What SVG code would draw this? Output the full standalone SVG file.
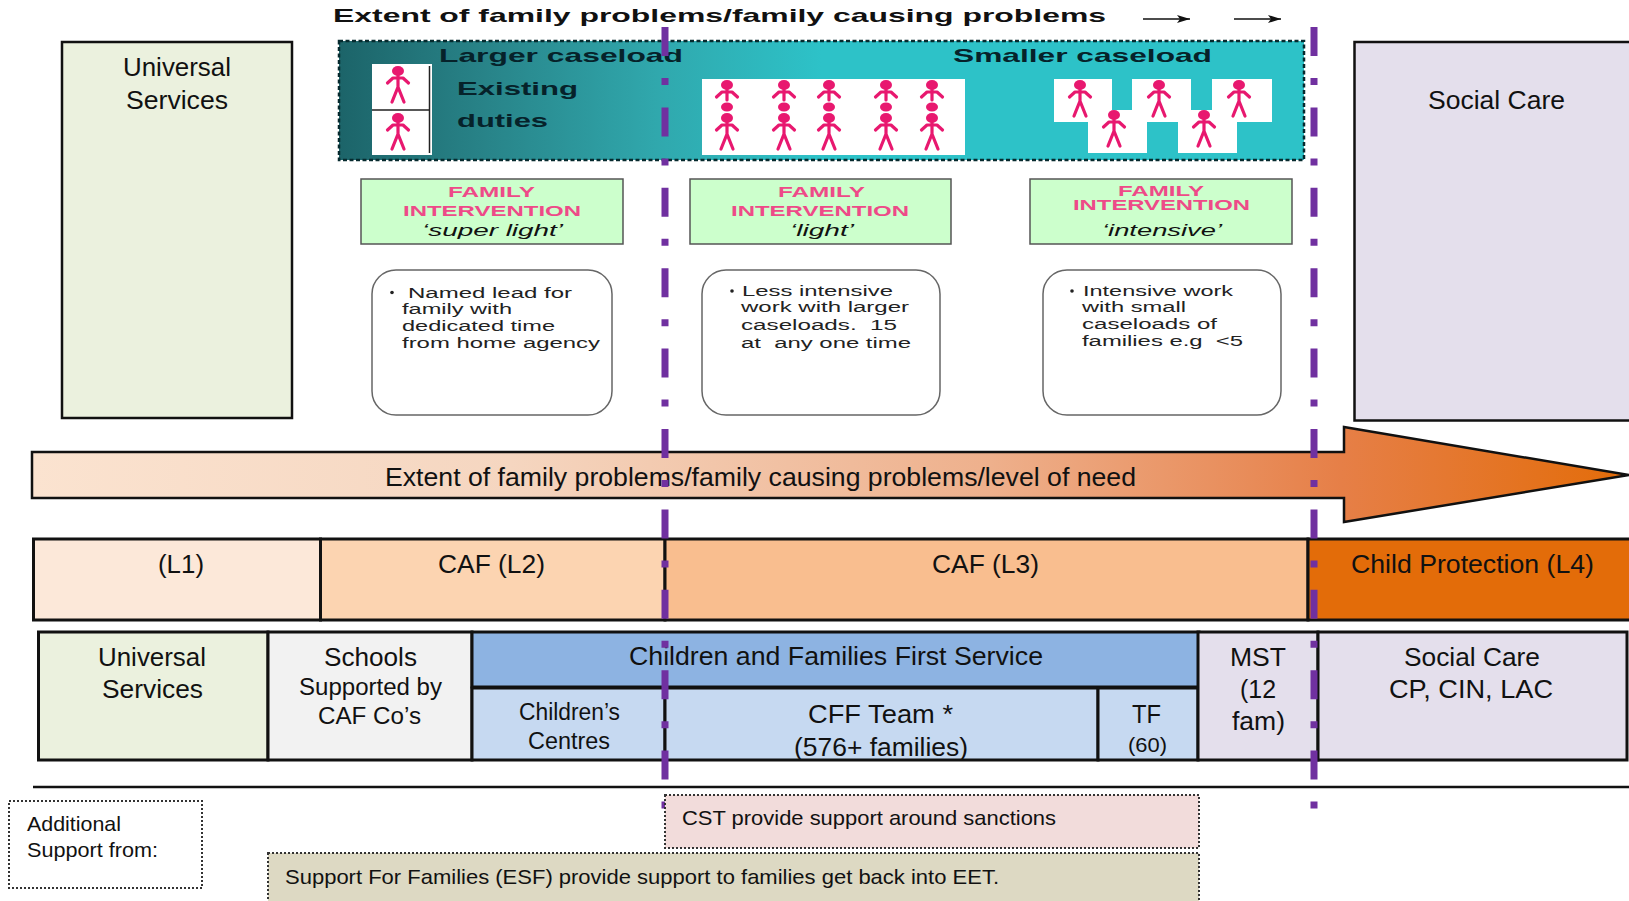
<svg xmlns="http://www.w3.org/2000/svg" xmlns:xlink="http://www.w3.org/1999/xlink" width="1629" height="901" viewBox="0 0 1629 901">
<style>
text{font-family:"Liberation Sans",Arial,sans-serif;fill:#111}
.l{font-size:26px}
.m{font-size:23px}
.s{font-size:21px}
.hd{font-size:18.500px;font-weight:bold}
.t{font-size:19px;font-weight:bold;fill:#06222a}
.fi{font-size:15.500px;font-weight:bold;fill:#ee4a88}
.it{font-size:17px;font-style:italic}
.b{font-size:15.500px;fill:#222}
.box{stroke:#111;stroke-width:2.500}
.row{stroke:#111;stroke-width:3}
.fam{fill:#ccffcc;stroke:#555;stroke-width:1.500}
.rnd{fill:#fff;stroke:#666;stroke-width:1.500}
.dot{stroke:#333;stroke-width:2;stroke-dasharray:2 2}
.p{fill:none;stroke:#e8186f;stroke-width:3.200;stroke-linecap:round;stroke-linejoin:round}
.h{fill:#e8186f}
.w{fill:#fff}
.pur{stroke:#7030a0;stroke-width:7;fill:none;stroke-dasharray:29 22 7 22.400}
.ar{stroke:#111;stroke-width:1.500;fill:none;marker-end:url(#tip)}
</style>
<defs>
<linearGradient id="teal" gradientUnits="userSpaceOnUse" x1="339" y1="0" x2="1304" y2="0">
<stop offset="0" stop-color="#1c6469"/><stop offset=".15" stop-color="#288388"/><stop offset=".33" stop-color="#30a8ad"/><stop offset=".5" stop-color="#2dc2c8"/><stop offset="1" stop-color="#2dc2c8"/>
</linearGradient>
<linearGradient id="grad" gradientUnits="userSpaceOnUse" x1="32" y1="0" x2="1629" y2="0">
<stop offset="0" stop-color="#fbe3d0"/><stop offset=".3" stop-color="#f5d6c0"/><stop offset=".6" stop-color="#eeb08c"/><stop offset=".82" stop-color="#e67f47"/><stop offset="1" stop-color="#e36c09"/>
</linearGradient>
<marker id="tip" markerUnits="userSpaceOnUse" markerWidth="14" markerHeight="8" refX="13" refY="4" orient="auto"><path d="M0 0L13 4L0 8L3 4Z" fill="#111"/></marker>
<g id="person"><ellipse class="h" cx="13" cy="5" rx="6" ry="5"/><path class="p" d="M13 9V21M2.500 17L8 12H18L23.500 17M13 21L7 36M13 21L19 36"/></g>
<g id="upper"><ellipse class="h" cx="13" cy="5" rx="6" ry="5"/><path class="p" d="M13 9V20M2.500 17L8 12H18L23.500 17"/><ellipse class="h" cx="13" cy="27" rx="6" ry="4.500"/></g>
</defs>

<g id="title">
<text class="hd" x="333" y="22" textLength="773" lengthAdjust="spacingAndGlyphs">Extent of family problems/family causing problems</text>
</g>

<g id="universal-top">
<rect class="box" x="62" y="42" width="230" height="376" fill="#ebf1de"/>
<text class="l" x="123" y="76" textLength="108" lengthAdjust="spacingAndGlyphs">Universal</text>
<text class="l" x="126" y="109" textLength="102" lengthAdjust="spacingAndGlyphs">Services</text>
</g>
<g id="social-care-top">
<rect class="box" x="1354.500" y="42" width="290" height="378.500" fill="#e4dfec"/>
<text class="l" x="1428" y="109" textLength="137" lengthAdjust="spacingAndGlyphs">Social Care</text>
</g>

<g id="caseload">
<rect x="339" y="41" width="965" height="119" fill="url(#teal)" stroke="#062a2e" stroke-width="2.500" stroke-dasharray="4 2.500"/>
<rect class="w" x="372" y="64" width="60" height="91"/>
<path d="M372 110H430M429.500 66V153" stroke="#222" stroke-width="1.500" fill="none"/>
<use xlink:href="#person" x="385" y="66"/>
<use xlink:href="#person" x="385" y="113"/>
<rect class="w" x="702" y="79" width="263" height="76"/>
<use xlink:href="#upper" x="714" y="80"/><use xlink:href="#person" x="714" y="113"/>
<use xlink:href="#upper" x="771" y="80"/><use xlink:href="#person" x="771" y="113"/>
<use xlink:href="#upper" x="816" y="80"/><use xlink:href="#person" x="816" y="113"/>
<use xlink:href="#upper" x="873" y="80"/><use xlink:href="#person" x="873" y="113"/>
<use xlink:href="#upper" x="919" y="80"/><use xlink:href="#person" x="919" y="113"/>
<rect class="w" x="1054" y="79" width="58" height="43"/>
<rect class="w" x="1088" y="110" width="59" height="43"/>
<rect class="w" x="1132" y="79" width="59" height="43"/>
<rect class="w" x="1178" y="110" width="59" height="43"/>
<rect class="w" x="1212" y="79" width="60" height="43"/>
<use xlink:href="#person" x="1067" y="80"/>
<use xlink:href="#person" x="1101" y="110"/>
<use xlink:href="#person" x="1146" y="80"/>
<use xlink:href="#person" x="1191" y="110"/>
<use xlink:href="#person" x="1226" y="80"/>
<text class="t" x="439" y="62" textLength="244" lengthAdjust="spacingAndGlyphs">Larger caseload</text>
<text class="t" x="953" y="62" textLength="259" lengthAdjust="spacingAndGlyphs">Smaller caseload</text>
<text class="t" x="457" y="95" textLength="121" lengthAdjust="spacingAndGlyphs">Existing</text>
<text class="t" x="457" y="127" textLength="91" lengthAdjust="spacingAndGlyphs">duties</text>
</g>

<g id="fi-super-light">
<rect class="fam" x="361" y="179" width="262" height="65"/>
<text class="fi" x="448" y="197" textLength="87" lengthAdjust="spacingAndGlyphs">FAMILY</text>
<text class="fi" x="403" y="216" textLength="178" lengthAdjust="spacingAndGlyphs">INTERVENTION</text>
<text class="it" x="422" y="236" textLength="141" lengthAdjust="spacingAndGlyphs">‘super light’</text>
</g>
<g id="fi-light">
<rect class="fam" x="690" y="179" width="261" height="65"/>
<text class="fi" x="778" y="197" textLength="87" lengthAdjust="spacingAndGlyphs">FAMILY</text>
<text class="fi" x="731" y="216" textLength="178" lengthAdjust="spacingAndGlyphs">INTERVENTION</text>
<text class="it" x="790" y="236" textLength="64" lengthAdjust="spacingAndGlyphs">‘light’</text>
</g>
<g id="fi-intensive">
<rect class="fam" x="1030" y="179" width="262" height="65"/>
<text class="fi" x="1118" y="196" textLength="86" lengthAdjust="spacingAndGlyphs">FAMILY</text>
<text class="fi" x="1073" y="210" textLength="177" lengthAdjust="spacingAndGlyphs">INTERVENTION</text>
<text class="it" x="1102" y="235.500" textLength="120" lengthAdjust="spacingAndGlyphs">‘intensive’</text>
</g>

<g id="note-super-light">
<rect class="rnd" x="372" y="270" width="240" height="145" rx="24"/>
<circle cx="392" cy="292.500" r="1.800" fill="#222"/>
<text class="b" x="408" y="298" textLength="164" lengthAdjust="spacingAndGlyphs">Named lead for</text>
<text class="b" x="402" y="314" textLength="110" lengthAdjust="spacingAndGlyphs">family with</text>
<text class="b" x="402" y="331" textLength="153" lengthAdjust="spacingAndGlyphs">dedicated time</text>
<text class="b" x="402" y="348" textLength="198" lengthAdjust="spacingAndGlyphs">from home agency</text>
</g>
<g id="note-light">
<rect class="rnd" x="702" y="270" width="238" height="145" rx="24"/>
<circle cx="732" cy="291" r="1.800" fill="#222"/>
<text class="b" x="742" y="296" textLength="151" lengthAdjust="spacingAndGlyphs">Less intensive</text>
<text class="b" x="741" y="312" textLength="168" lengthAdjust="spacingAndGlyphs">work with larger</text>
<text class="b" x="741" y="330" textLength="156" lengthAdjust="spacingAndGlyphs" xml:space="preserve">caseloads.  15</text>
<text class="b" x="741" y="348" textLength="170" lengthAdjust="spacingAndGlyphs" xml:space="preserve">at  any one time</text>
</g>
<g id="note-intensive">
<rect class="rnd" x="1043" y="270" width="238" height="145" rx="24"/>
<circle cx="1072" cy="291" r="1.800" fill="#222"/>
<text class="b" x="1083" y="296" textLength="150" lengthAdjust="spacingAndGlyphs">Intensive work</text>
<text class="b" x="1082" y="312" textLength="104" lengthAdjust="spacingAndGlyphs">with small</text>
<text class="b" x="1082" y="329" textLength="135" lengthAdjust="spacingAndGlyphs">caseloads of</text>
<text class="b" x="1082" y="346" textLength="161" lengthAdjust="spacingAndGlyphs" xml:space="preserve">families e.g  &lt;5</text>
</g>

<g id="need-arrow">
<path d="M32 452H1344V427L1629 475L1344 522V498H32Z" fill="url(#grad)" stroke="#111" stroke-width="2.500"/>
<text class="l" x="385" y="486" textLength="751" lengthAdjust="spacingAndGlyphs">Extent of family problems/family causing problems/level of need</text>
</g>

<g id="level-l1">
<rect class="row" x="33.500" y="539" width="287" height="81" fill="#fce8d9"/>
<text class="l" x="158" y="573" textLength="46" lengthAdjust="spacingAndGlyphs">(L1)</text>
</g>
<g id="level-l2">
<rect class="row" x="320.500" y="539" width="344.500" height="81" fill="#fcd4b1"/>
<text class="l" x="438" y="573" textLength="107" lengthAdjust="spacingAndGlyphs">CAF (L2)</text>
</g>
<g id="level-l3">
<rect class="row" x="665" y="539" width="643" height="81" fill="#f9be8f"/>
<text class="l" x="932" y="573" textLength="107" lengthAdjust="spacingAndGlyphs">CAF (L3)</text>
</g>
<g id="level-l4">
<rect class="row" x="1308" y="539" width="323" height="81" fill="#e36c09"/>
<text class="l" x="1351" y="573" textLength="243" lengthAdjust="spacingAndGlyphs">Child Protection (L4)</text>
</g>

<g id="svc-universal">
<rect class="row" x="38.500" y="632" width="229.500" height="128" fill="#ebf1de"/>
<text class="l" x="98" y="665.500" textLength="108" lengthAdjust="spacingAndGlyphs">Universal</text>
<text class="l" x="102" y="698" textLength="101" lengthAdjust="spacingAndGlyphs">Services</text>
</g>
<g id="svc-schools">
<rect class="row" x="268" y="632" width="204" height="128" fill="#f2f2f2"/>
<text class="l" x="324" y="665.500" textLength="93" lengthAdjust="spacingAndGlyphs">Schools</text>
<text class="m" x="299" y="695" textLength="143" lengthAdjust="spacingAndGlyphs">Supported by</text>
<text class="m" x="318" y="724" textLength="103" lengthAdjust="spacingAndGlyphs">CAF Co’s</text>
</g>
<g id="svc-cff-header">
<rect class="row" x="472" y="632" width="727" height="55" fill="#8db3e2"/>
<text class="l" x="629" y="665" textLength="414" lengthAdjust="spacingAndGlyphs">Children and Families First Service</text>
</g>
<g id="svc-childrens-centres">
<rect class="row" x="472" y="688" width="193" height="72" fill="#c6d9f1"/>
<text class="m" x="519" y="720" textLength="101" lengthAdjust="spacingAndGlyphs">Children’s</text>
<text class="m" x="528" y="749" textLength="82" lengthAdjust="spacingAndGlyphs">Centres</text>
</g>
<g id="svc-cff-team">
<rect class="row" x="665" y="688" width="433" height="72" fill="#c6d9f1"/>
<text class="l" x="808" y="723" textLength="145" lengthAdjust="spacingAndGlyphs">CFF Team *</text>
<text class="l" x="794" y="755.500" textLength="174" lengthAdjust="spacingAndGlyphs">(576+ families)</text>
</g>
<g id="svc-tf">
<rect class="row" x="1098" y="688" width="100" height="72" fill="#c6d9f1"/>
<text class="l" x="1132" y="723" textLength="29" lengthAdjust="spacingAndGlyphs">TF</text>
<text class="s" x="1128" y="752" textLength="39" lengthAdjust="spacingAndGlyphs">(60)</text>
</g>
<g id="svc-mst">
<rect class="row" x="1198" y="632" width="120" height="128" fill="#e4dfec"/>
<text class="l" x="1230" y="665.500" textLength="56" lengthAdjust="spacingAndGlyphs">MST</text>
<text class="l" x="1240" y="698" textLength="36" lengthAdjust="spacingAndGlyphs">(12</text>
<text class="l" x="1232" y="730" textLength="53" lengthAdjust="spacingAndGlyphs">fam)</text>
</g>
<g id="svc-social-care">
<rect class="row" x="1318" y="632" width="309" height="128" fill="#e4dfec"/>
<text class="l" x="1404" y="665.500" textLength="136" lengthAdjust="spacingAndGlyphs">Social Care</text>
<text class="l" x="1389" y="698" textLength="164" lengthAdjust="spacingAndGlyphs">CP, CIN, LAC</text>
</g>

<g id="connectors">
<path class="pur" d="M665 27V812"/>
<path class="pur" d="M1314 27V812"/>
<path class="ar" d="M1143 19H1190"/>
<path class="ar" d="M1234 19H1281"/>
<path d="M33 787H1629" stroke="#111" stroke-width="2.500"/>
</g>

<g id="support-label">
<rect class="dot" x="9" y="801" width="193" height="87" fill="#fff"/>
<text class="s" x="27" y="831" textLength="94" lengthAdjust="spacingAndGlyphs">Additional</text>
<text class="s" x="27" y="857" textLength="131" lengthAdjust="spacingAndGlyphs">Support from:</text>
</g>
<g id="support-cst">
<rect class="dot" x="665" y="795" width="534" height="53" fill="#f2dcdb"/>
<text class="s" x="682" y="825" textLength="374" lengthAdjust="spacingAndGlyphs">CST provide support around sanctions</text>
</g>
<g id="support-esf">
<rect class="dot" x="268" y="853" width="931" height="52" fill="#ddd9c3"/>
<text class="s" x="285" y="884" textLength="714" lengthAdjust="spacingAndGlyphs">Support For Families (ESF) provide support to families get back into EET.</text>
</g>
</svg>
